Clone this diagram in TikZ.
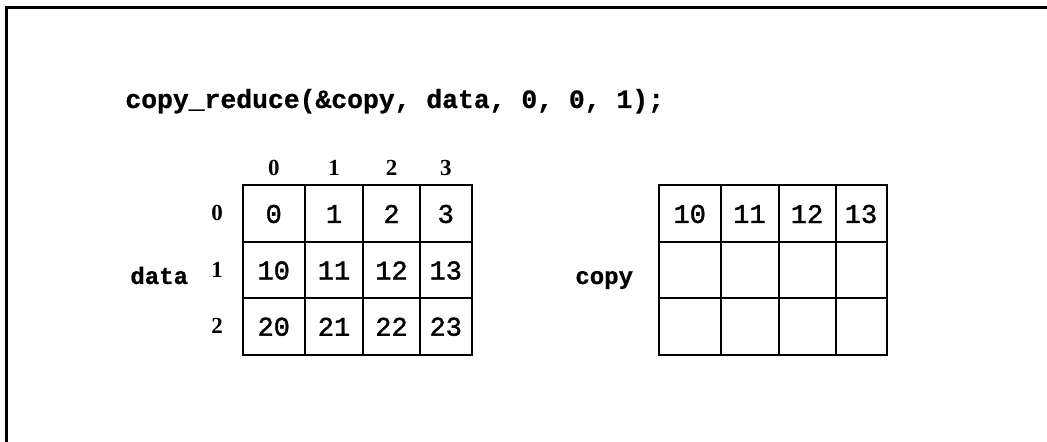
\documentclass[tikz,border=0pt]{standalone}
\usepackage{fontspec}
\newfontfamily\codefont[FakeBold=0.8]{Liberation Mono Bold}
\newfontfamily\cellfont[FakeBold=1.5]{Liberation Mono}
\newfontfamily\idxfont{Liberation Serif}
\usetikzlibrary{positioning}
\tikzset{
  cellbox/.style={draw,line width=1pt,inner sep=0pt,
    font=\cellfont\fontsize{13.5}{13.5}\selectfont},
  idx/.style={inner sep=0pt,anchor=base,
    font=\idxfont\bfseries\fontsize{11.5}{11.5}\selectfont},
  code/.style={inner sep=0pt,anchor=base west,
    font=\codefont\fontsize{13.2}{13.2}\selectfont},
  lbl/.style={inner sep=0pt,anchor=base west,
    font=\codefont\fontsize{12}{12}\selectfont}
}

\begin{document}
\begin{tikzpicture}[x=0.5pt,y=-0.5pt]
  \useasboundingbox (0,0) rectangle (1047,442);
  % frame
  \draw[line width=1.5pt] (6.5,442) -- (6.5,7.5) -- (1047,7.5);

  \node[code] (call) at (125,108) {copy\_reduce(\&copy, data, 0, 0, 1);};

  % data array
  \foreach \c/\xa/\xb in {0/242.5/305,1/305/363,2/363/420,3/420/471.5}{
    \node[idx] (dh\c) at ({(\xa+\xb)/2},176) {\c};
    \foreach \r/\ya/\yb in {0/185.5/242.5,1/242.5/298.5,2/298.5/355}{
      \pgfmathtruncatemacro\v{10*\r+\c}
      \node[cellbox,minimum width={(\xb-\xa)*0.5pt},minimum height={(\yb-\ya)*0.5pt}]
        (d\r\c) at ({(\xa+\xb)/2},{(\ya+\yb)/2}) {\v};
    }
  }
  \foreach \r/\y in {0/221,1/277.5,2/334}
    \node[idx] (dr\r) at (217,\y) {\r};
  \node[lbl] (ldata) at (130,284) {data};

  % copy array
  \foreach \c/\xa/\xb in {0/659/720.5,1/720.5/778.5,2/778.5/835.5,3/835.5/886.5}{
    \foreach \r/\ya/\yb in {0/185.5/242.5,1/242.5/298.5,2/298.5/355}{
      \ifnum\r=0 \pgfmathtruncatemacro\v{10+\c}\else\def\v{}\fi
      \node[cellbox,minimum width={(\xb-\xa)*0.5pt},minimum height={(\yb-\ya)*0.5pt}]
        (c\r\c) at ({(\xa+\xb)/2},{(\ya+\yb)/2}) {\v};
    }
  }
  \node[lbl] (lcopy) at (575,284) {copy};
\end{tikzpicture}
\end{document}
